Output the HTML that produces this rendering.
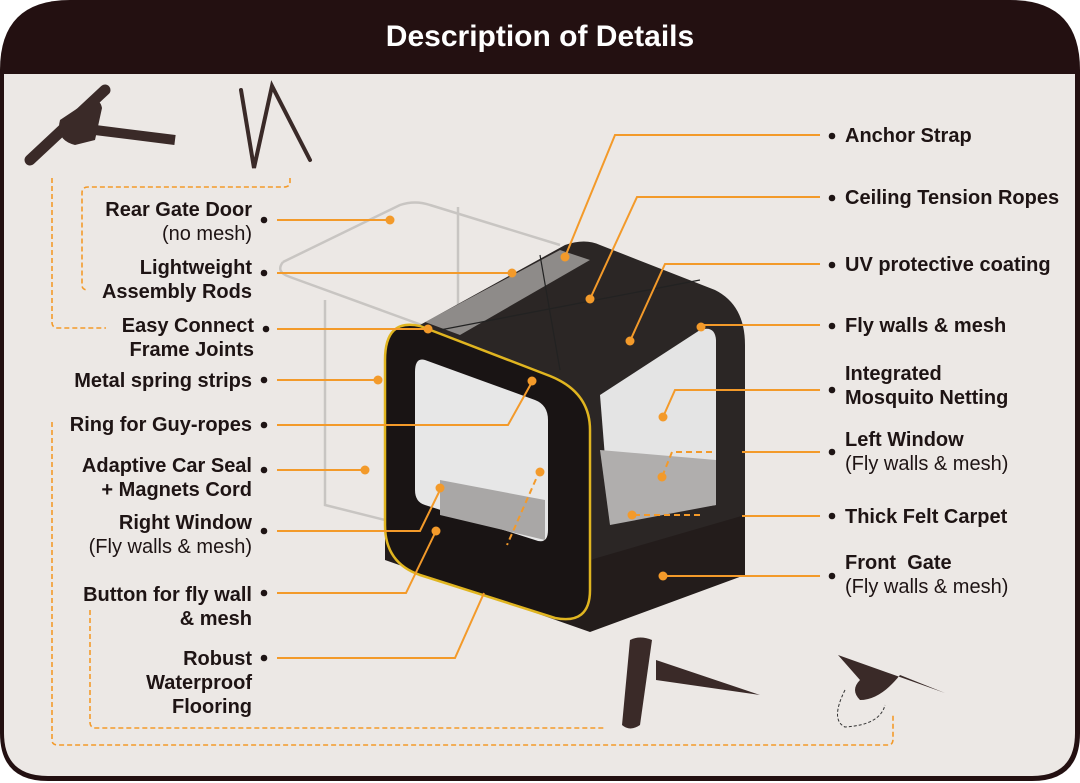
<!DOCTYPE html>
<html><head><meta charset="utf-8"><style>
html,body{margin:0;padding:0;background:#fff}
svg{display:block}
text{font-family:"Liberation Sans",Arial,sans-serif;fill:#1e1414}
.b{font-weight:bold;font-size:20px}
.n{font-size:20px}
</style></head><body>
<svg width="1080" height="783" viewBox="0 0 1080 783" xmlns="http://www.w3.org/2000/svg">
<rect width="1080" height="783" fill="#fff"/>
<!-- frame -->
<path d="M70 0 H1010 Q1080 0 1080 70 V733 Q1080 781 1032 781 H48 Q0 781 0 733 V70 Q0 0 70 0Z" fill="#231011"/>
<path d="M4 74 H1075 V733 Q1075 776 1032 776 H48 Q4 776 4 733Z" fill="#ece8e5"/>
<text x="540" y="46" text-anchor="middle" style="font-weight:bold;font-size:30px;fill:#fff">Description of Details</text>

<!-- dashed connectors -->
<g fill="none" stroke="#f39a2a" stroke-width="1.6" stroke-dasharray="5,3">
<path d="M52 178 V322 Q52 328 58 328 H106"/>
<path d="M290 178 V182 Q290 187 284 187 H88 Q82 187 82 193 V285 Q82 290 88 290"/>
<path d="M52 422 V740 Q52 745 58 745 H888 Q893 745 893 739 V715"/>
<path d="M90 610 V722 Q90 728 96 728 H605"/>
</g>

<!-- rear gate outline -->
<g fill="none" stroke="#c8c5c2" stroke-width="2.5">
<path d="M283 262 Q275 272 290 277 L430 328 M283 262 L400 205 Q415 200 430 205 L560 245"/>
<path d="M325 300 V505 L385 520"/>
<path d="M458 207 V305"/>
</g>

<!-- tent -->
<polygon points="385,480 590,600 745,560 745,520 590,560 385,470" fill="#1c1616"/>
<polygon points="590,560 745,500 745,575 590,632 385,560 385,510" fill="#231c1b"/>
<path d="M420 325 L565 245 Q585 238 600 245 L715 290 Q745 305 745 345 V515 L590 560 V420Z" fill="#2b2625"/>
<path d="M425 322 L560 250 L590 260 L460 335Z" fill="#b9b6b4" opacity="0.7"/>
<path d="M600 395 L700 330 Q715 325 716 340 V505 L610 520Z" fill="#e4e4e4"/>
<path d="M600 450 L716 460 V505 L610 525Z" fill="#b0aead"/>
<!-- front face -->
<path d="M420 326 L550 376 Q590 392 590 430 V590 Q590 625 555 618 L420 575 Q385 563 385 525 V360 Q385 318 420 326Z" fill="#191414" stroke="#e0b520" stroke-width="2.5"/>
<path d="M425 360 L535 400 Q548 405 548 420 V530 Q548 545 535 540 L425 505 Q415 502 415 490 V372 Q415 357 425 360Z" fill="#e7e7e7"/>
<path d="M440 480 L545 500 V540 L440 515Z" fill="#a9a7a6"/>
<g stroke="#222" stroke-width="1.2" fill="none"><path d="M440 330 L700 280 M540 255 L560 370"/></g>

<!-- left connectors -->
<g stroke="#f39a2a" stroke-width="2" fill="none">
<path d="M277 220 H390"/>
<path d="M277 273 H512"/>
<path d="M277 329 H428"/>
<path d="M277 380 H378"/>
<path d="M277 425 H508 L532 382"/>
<path d="M277 470 H365"/>
<path d="M277 531 H420 L440 490"/>
<path d="M277 593 H406 L436 531"/>
<path d="M277 658 H455 L484 593"/>
<path d="M820 135 H615 L565 257"/>
<path d="M820 197 H637 L590 299"/>
<path d="M820 264 H665 L630 341"/>
<path d="M820 325 H701"/>
<path d="M820 390 H675 L663 417"/>
<path d="M820 452 H742"/>
<path d="M820 516 H742"/>
<path d="M820 576 H663"/>
</g>
<g stroke="#f39a2a" stroke-width="2" fill="none" stroke-dasharray="6,4">
<path d="M712 452 H672 L662 477"/>
<path d="M700 515 H632"/>
<path d="M540 470 L507 545"/>
</g>
<g fill="#f39a2a">
<circle cx="390" cy="220" r="4.5"/><circle cx="512" cy="273" r="4.5"/><circle cx="428" cy="329" r="4.5"/>
<circle cx="378" cy="380" r="4.5"/><circle cx="532" cy="381" r="4.5"/><circle cx="365" cy="470" r="4.5"/>
<circle cx="440" cy="488" r="4.5"/><circle cx="436" cy="531" r="4.5"/><circle cx="540" cy="472" r="4.5"/>
<circle cx="565" cy="257" r="4.5"/><circle cx="590" cy="299" r="4.5"/><circle cx="630" cy="341" r="4.5"/>
<circle cx="701" cy="327" r="4.5"/><circle cx="663" cy="417" r="4.5"/><circle cx="662" cy="477" r="4.5"/>
<circle cx="632" cy="515" r="4.5"/><circle cx="663" cy="576" r="4.5"/>
</g>

<!-- icons -->
<path d="M30 160 L105 90" stroke="#3a2a28" stroke-width="11" stroke-linecap="round"/>
<path d="M95 130 L175 140" stroke="#3a2a28" stroke-width="10"/>
<path d="M60 120 L90 100 Q100 98 102 108 L95 140 L75 145 Q55 140 60 120Z" fill="#3a2a28"/>
<g stroke="#3a2a28" stroke-width="4" stroke-linecap="round" fill="none">
<path d="M241 90 L254 168 L272 86 L310 160"/>
</g>
<path d="M630 640 Q640 635 652 640 L640 725 Q630 732 622 725Z" fill="#3a2a28"/>
<path d="M656 660 L760 695 L656 680Z" fill="#3a2a28"/>
<path d="M838 655 L945 693 L900 675 Q880 700 860 700 Q850 690 860 680Z" fill="#3a2a28"/>
<path d="M845 690 Q830 720 845 727 Q880 725 885 705" stroke="#333" stroke-dasharray="3,2" fill="none"/>

<!-- left labels -->
<g text-anchor="end">
<text class="b" x="252" y="216">Rear Gate Door</text>
<text class="n" x="252" y="240">(no mesh)</text>
<text class="b" x="252" y="274">Lightweight</text>
<text class="b" x="252" y="298">Assembly Rods</text>
<text class="b" x="254" y="332">Easy Connect</text>
<text class="b" x="254" y="356">Frame Joints</text>
<text class="b" x="252" y="387">Metal spring strips</text>
<text class="b" x="252" y="431">Ring for Guy-ropes</text>
<text class="b" x="252" y="472">Adaptive Car Seal</text>
<text class="b" x="252" y="496">+ Magnets Cord</text>
<text class="b" x="252" y="529">Right Window</text>
<text class="n" x="252" y="553">(Fly walls &amp; mesh)</text>
<text class="b" x="252" y="601">Button for fly wall</text>
<text class="b" x="252" y="625">&amp; mesh</text>
<text class="b" x="252" y="665">Robust</text>
<text class="b" x="252" y="689">Waterproof</text>
<text class="b" x="252" y="713">Flooring</text>
</g>
<g fill="#1e1414">
<circle cx="264" cy="220" r="3.3"/><circle cx="264" cy="273" r="3.3"/><circle cx="266" cy="329" r="3.3"/>
<circle cx="264" cy="380" r="3.3"/><circle cx="264" cy="425" r="3.3"/><circle cx="264" cy="470" r="3.3"/>
<circle cx="264" cy="531" r="3.3"/><circle cx="264" cy="593" r="3.3"/><circle cx="264" cy="658" r="3.3"/>
<circle cx="832" cy="136" r="3.3"/><circle cx="832" cy="198" r="3.3"/><circle cx="832" cy="265" r="3.3"/>
<circle cx="832" cy="326" r="3.3"/><circle cx="832" cy="390" r="3.3"/><circle cx="832" cy="452" r="3.3"/>
<circle cx="832" cy="516" r="3.3"/><circle cx="832" cy="576" r="3.3"/>
</g>
<!-- right labels -->
<text class="b" x="845" y="142">Anchor Strap</text>
<text class="b" x="845" y="204">Ceiling Tension Ropes</text>
<text class="b" x="845" y="271">UV protective coating</text>
<text class="b" x="845" y="332">Fly walls &amp; mesh</text>
<text class="b" x="845" y="380">Integrated</text>
<text class="b" x="845" y="404">Mosquito Netting</text>
<text class="b" x="845" y="446">Left Window</text>
<text class="n" x="845" y="470">(Fly walls &amp; mesh)</text>
<text class="b" x="845" y="523">Thick Felt Carpet</text>
<text class="b" x="845" y="569" xml:space="preserve">Front  Gate</text>
<text class="n" x="845" y="593">(Fly walls &amp; mesh)</text>
</svg>
</body></html>
